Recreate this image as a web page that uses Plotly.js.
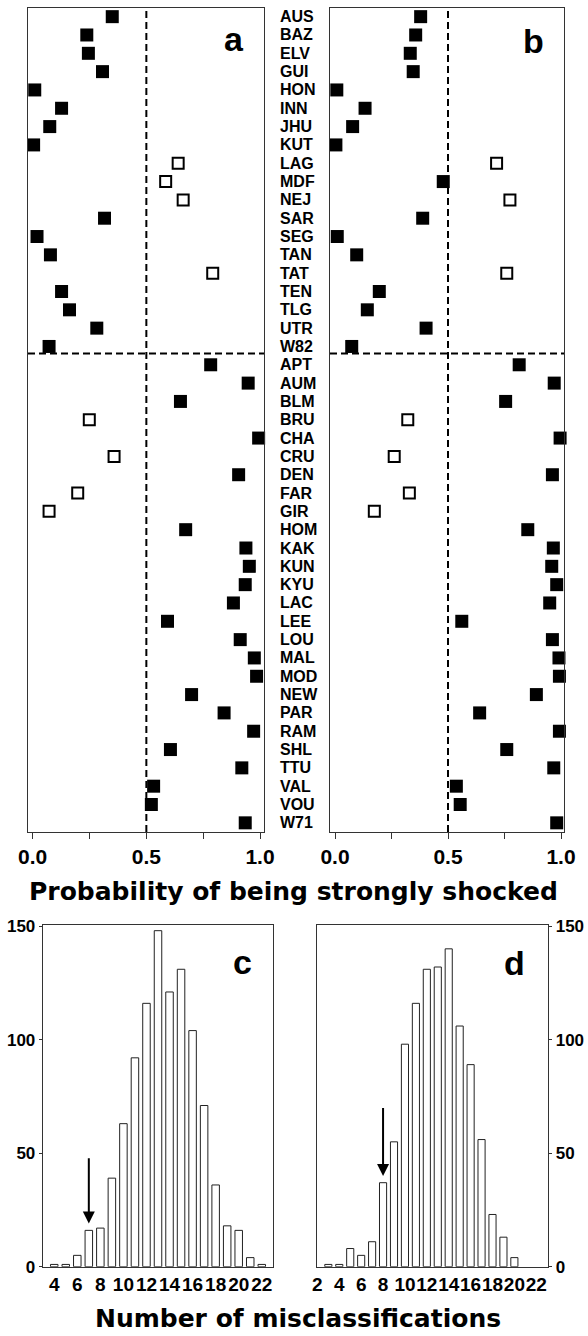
<!DOCTYPE html>
<html><head><meta charset="utf-8">
<script src="https://cdn.plot.ly/plotly-3.0.1.min.js"></script>
<style>html,body{margin:0;padding:0;background:#fff}#chart{width:588px;height:1336px}</style>
</head><body><div id="chart"></div>
<script>
// ---- data ----
const weakCats = ["AUS","BAZ","ELV","GUI","HON","INN","JHU","KUT","LAG","MDF","NEJ","SAR","SEG","TAN","TAT","TEN","TLG","UTR","W82"];
const strongCats = ["APT","AUM","BLM","BRU","CHA","CRU","DEN","FAR","GIR","HOM","KAK","KUN","KYU","LAC","LEE","LOU","MAL","MOD","NEW","PAR","RAM","SHL","TTU","VAL","VOU","W71"];
const probA_weak = [0.350,0.238,0.245,0.307,0.009,0.127,0.075,0.004,0.640,0.585,0.662,0.316,0.019,0.078,0.792,0.127,0.162,0.282,0.072];
const probA_strong = [0.783,0.948,0.650,0.249,0.994,0.358,0.906,0.198,0.072,0.673,0.938,0.953,0.935,0.883,0.593,0.913,0.975,0.985,0.699,0.842,0.972,0.606,0.920,0.532,0.522,0.935];
const probB_weak = [0.379,0.357,0.333,0.346,0.008,0.133,0.078,0.004,0.715,0.479,0.774,0.388,0.010,0.096,0.760,0.196,0.143,0.403,0.074];
const probB_strong = [0.815,0.970,0.755,0.322,0.996,0.262,0.962,0.329,0.174,0.853,0.966,0.959,0.981,0.950,0.561,0.962,0.991,0.993,0.891,0.640,0.993,0.760,0.968,0.537,0.554,0.981];
const histC_x = [4,5,6,7,8,9,10,11,12,13,14,15,16,17,18,19,20,21,22];
const histC_y = [1,1,5,16,17,39,63,92,116,148,121,131,104,71,36,18,16,4,1];
const histD_x = [3,4,5,6,7,8,9,10,11,12,13,14,15,16,17,18,19,20];
const histD_y = [1,1,8,5,11,37,55,98,116,131,132,140,106,89,56,23,13,4];
const observedC = 7, observedD = 8;
const probTicks = [0,0.25,0.5,0.75,1];
const probTickText = ["0.0","","0.5","","1.0"];
const histCTicks = [4,6,8,10,12,14,16,18,20,22];
const histDTicks = [2,4,6,8,10,12,14,16,18,20,22];
const countTicks = [0,50,100,150];
const panelLetters = ["a","b","c","d"];
const xTitle1 = "Probability of being strongly shocked";
const xTitle2 = "Number of misclassifications";

// ---- helpers ----
const W = 588, H = 1336;
const px = v => v / W, py = v => 1 - v / H;
const allCats = weakCats.concat(strongCats);
const FONT = "Liberation Sans, Arial, sans-serif";
const WIDE = "DejaVu Sans, Verdana, sans-serif";

function splitPanel(weakVals, strongVals) {
  const filled = {x: [], y: []}, open = {x: [], y: []};
  weakCats.forEach((c, i) => { const t = weakVals[i] < 0.5 ? filled : open; t.x.push(weakVals[i]); t.y.push(c); });
  strongCats.forEach((c, i) => { const t = strongVals[i] >= 0.5 ? filled : open; t.x.push(strongVals[i]); t.y.push(c); });
  return {filled, open};
}
const pa = splitPanel(probA_weak, probA_strong);
const pb = splitPanel(probB_weak, probB_strong);

function pts(d, xa, ya, isOpen) {
  return {
    type: "scatter", mode: "markers", x: d.x, y: d.y, xaxis: xa, yaxis: ya,
    marker: isOpen ? {symbol: "square", size: 11, color: "#fff", line: {color: "#000", width: 2}}
                   : {symbol: "square", size: 13, color: "#000", line: {width: 0}},
    hoverinfo: "skip", showlegend: false, cliponaxis: false
  };
}

const data = [
  pts(pa.filled, "x", "y", false), pts(pa.open, "x", "y", true),
  pts(pb.filled, "x2", "y2", false), pts(pb.open, "x2", "y2", true),
  {type: "bar", x: histC_x, y: histC_y, xaxis: "x3", yaxis: "y3", width: 0.65,
   marker: {color: "#fff", line: {color: "#222", width: 1}}, showlegend: false, hoverinfo: "skip"},
  {type: "bar", x: histD_x, y: histD_y, xaxis: "x4", yaxis: "y4", width: 0.65,
   marker: {color: "#fff", line: {color: "#222", width: 1}}, showlegend: false, hoverinfo: "skip"}
];

const frame = {showline: true, mirror: true, linecolor: "#333", linewidth: 1, zeroline: false, showgrid: false, fixedrange: true};
const probX = Object.assign({}, frame, {
  tickmode: "array", tickvals: probTicks, ticktext: probTickText, ticks: "outside", ticklen: 6, tickwidth: 1, tickcolor: "#333",
  tickangle: 0, tickfont: {family: FONT, size: 21, weight: "bold", color: "#000"}
});
const catY = Object.assign({}, frame, {
  type: "category", categoryorder: "array", categoryarray: allCats, range: [44.5, -0.5],
  showticklabels: false, ticks: ""
});
const histX = Object.assign({}, frame, {
  tickmode: "array", ticks: "", tickangle: 0, tickfont: {family: FONT, size: 19, weight: "bold", color: "#000"}, ticklabelstandoff: 0
});
const histY = Object.assign({}, frame, {
  range: [0, 150.5], tickmode: "array", tickvals: countTicks, ticks: "outside", ticklen: 3, tickcolor: "#333",
  tickfont: {family: FONT, size: 17, weight: "bold", color: "#000"}
});

const layout = {
  width: W, height: H, margin: {l: 0, r: 0, t: 0, b: 0}, paper_bgcolor: "#fff", plot_bgcolor: "#fff",
  showlegend: false, bargap: 0,
  xaxis: Object.assign({}, probX, {domain: [px(28), px(264)], range: [(28 - 32.7) / 227.3, (264 - 32.7) / 227.3], anchor: "y"}),
  yaxis: Object.assign({}, catY, {domain: [py(832), py(7.5)], anchor: "x"}),
  xaxis2: Object.assign({}, probX, {domain: [px(330), px(564)], range: [(330 - 335) / 226, (564 - 335) / 226], anchor: "y2"}),
  yaxis2: Object.assign({}, catY, {domain: [py(832), py(7.5)], anchor: "x2"}),
  xaxis3: Object.assign({}, histX, {domain: [px(42.7), px(273.3)], range: [3, 23], tickvals: histCTicks, anchor: "y3"}),
  yaxis3: Object.assign({}, histY, {domain: [py(1266.7), py(925)], anchor: "x3"}),
  xaxis4: Object.assign({}, histX, {domain: [px(317.4), px(548.3)], range: [2, 23.1], tickvals: histDTicks, anchor: "y4"}),
  yaxis4: Object.assign({}, histY, {domain: [py(1266.7), py(925)], anchor: "x4", side: "right"}),
  shapes: [],
  annotations: []
};

const dash = {color: "#000", width: 2, dash: "7px,4px"};
[["x", "y"], ["x2", "y2"]].forEach(([xa, ya]) => {
  layout.shapes.push({type: "line", xref: xa, yref: ya + " domain", x0: 0.5, x1: 0.5, y0: 0, y1: 1, line: dash});
  layout.shapes.push({type: "line", xref: xa + " domain", yref: ya, x0: 0, x1: 1, y0: weakCats.length - 0.62, y1: weakCats.length - 0.62, line: dash});
});

// category labels in the middle column
allCats.forEach(c => layout.annotations.push({
  xref: "paper", yref: "y", x: px(278), y: c, xanchor: "left", yanchor: "middle", showarrow: false,
  text: c, font: {family: FONT, size: 16, weight: "bold", color: "#000"}
}));

// panel letters
const letterPos = [[234, 39], [533, 41], [242, 962], [514, 963]];
panelLetters.forEach((t, i) => layout.annotations.push({
  xref: "paper", yref: "paper", x: px(letterPos[i][0]), y: py(letterPos[i][1]), xanchor: "center", yanchor: "middle",
  showarrow: false, text: t, font: {family: FONT, size: 34, weight: "bold", color: "#000"}
}));

// axis titles
layout.annotations.push({xref: "paper", yref: "paper", x: px(293), y: py(891), xanchor: "center", yanchor: "middle",
  showarrow: false, text: xTitle1, font: {family: WIDE, size: 25, weight: "bold", color: "#000"}});
layout.annotations.push({xref: "paper", yref: "paper", x: px(297.5), y: py(1318), xanchor: "center", yanchor: "middle",
  showarrow: false, text: xTitle2, font: {family: WIDE, size: 25, weight: "bold", color: "#000"}});

// observed-value arrows
[[observedC, histC_y[histC_x.indexOf(observedC)], "x3", "y3", 48.4], [observedD, histD_y[histD_x.indexOf(observedD)], "x4", "y4", 70.6]].forEach(([xv, h, xa, ya, top]) => {
  layout.annotations.push({xref: xa, yref: ya, axref: xa, ayref: ya, x: xv, y: h + 3, ax: xv, ay: top,
    text: "", showarrow: true, arrowhead: 2, arrowsize: 1.2, arrowwidth: 2, arrowcolor: "#000", standoff: 0});
});

Plotly.newPlot("chart", data, layout, {staticPlot: true, displayModeBar: false});
</script>
</body></html>
